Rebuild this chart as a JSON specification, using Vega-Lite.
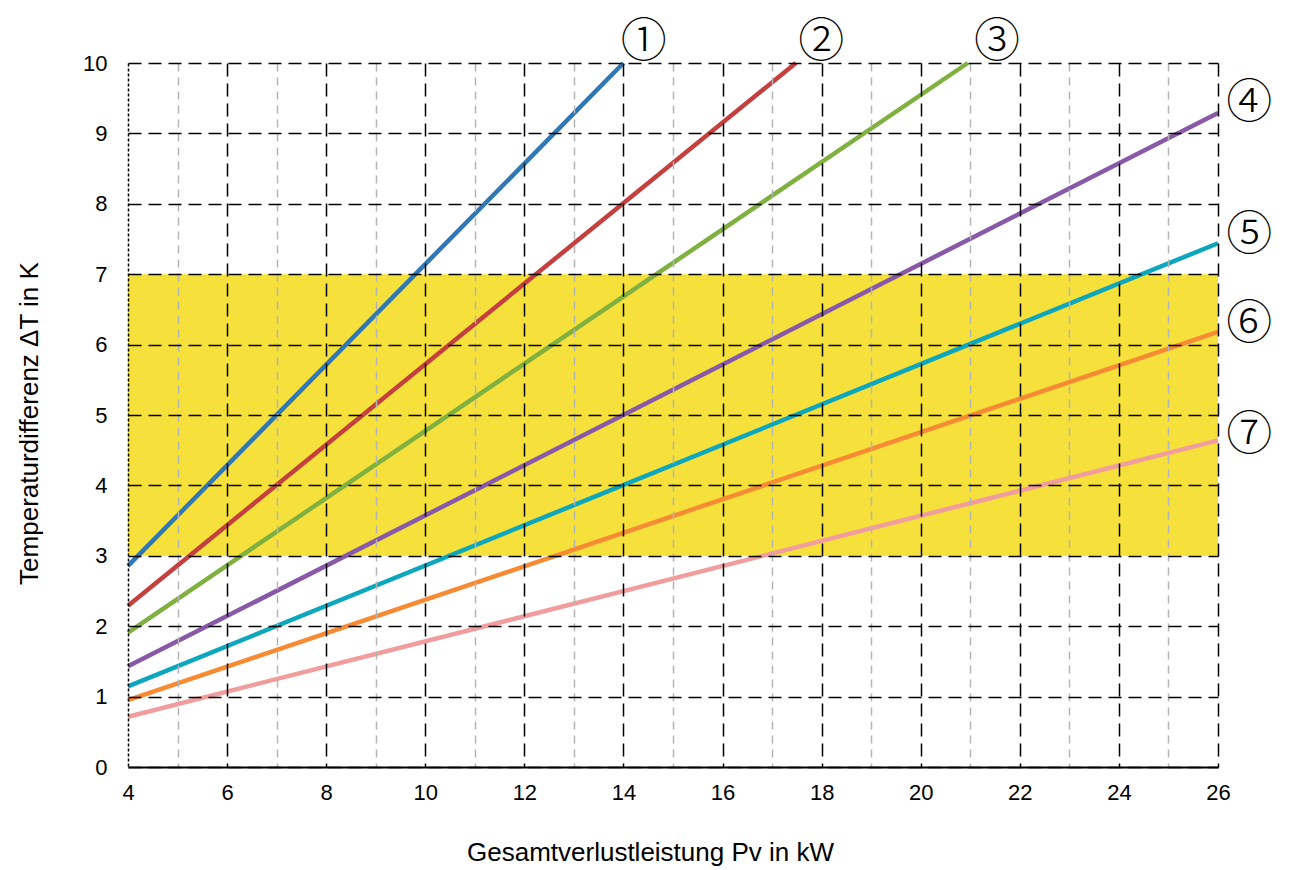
{
  "$schema": "https://vega.github.io/schema/vega-lite/v6.json",
  "width": 1090,
  "height": 704,
  "autosize": {"type": "none"},
  "padding": {"left": 128, "top": 63, "right": 77, "bottom": 103},
  "background": "white",
  "config": {"view": {"stroke": null}, "font": "Liberation Sans", "axis": {"labelFont": "Liberation Sans", "titleFont": "Liberation Sans"}},
  "datasets": {
    "band": [{"x": 4, "x2": 26, "y": 3, "y2": 7}],
    "lines": [
      {"series": "1", "x": 4, "y": 2.857},
      {"series": "1", "x": 14, "y": 10},
      {"series": "2", "x": 4, "y": 2.29},
      {"series": "2", "x": 17.48, "y": 10},
      {"series": "3", "x": 4, "y": 1.91},
      {"series": "3", "x": 20.95, "y": 10},
      {"series": "4", "x": 4, "y": 1.43},
      {"series": "4", "x": 26, "y": 9.29},
      {"series": "5", "x": 4, "y": 1.145},
      {"series": "5", "x": 26, "y": 7.44},
      {"series": "6", "x": 4, "y": 0.95},
      {"series": "6", "x": 26, "y": 6.18},
      {"series": "7", "x": 4, "y": 0.714},
      {"series": "7", "x": 26, "y": 4.64}
    ],
    "labels": [
      {"series": "1", "label": "①", "x": 14.41, "y": 10.3},
      {"series": "2", "label": "②", "x": 17.99, "y": 10.3},
      {"series": "3", "label": "③", "x": 21.54, "y": 10.3},
      {"series": "4", "label": "④", "x": 26.63, "y": 9.43},
      {"series": "5", "label": "⑤", "x": 26.63, "y": 7.56},
      {"series": "6", "label": "⑥", "x": 26.63, "y": 6.29},
      {"series": "7", "label": "⑦", "x": 26.63, "y": 4.72}
    ]
  },
  "layer": [
    {
      "data": {"name": "band"},
      "mark": {"type": "rect", "color": "#f6e03b"},
      "encoding": {
        "x": {
          "field": "x",
          "type": "quantitative",
          "scale": {"domain": [4, 26], "nice": false, "zero": false},
          "axis": {
            "values": [4, 5, 6, 7, 8, 9, 10, 11, 12, 13, 14, 15, 16, 17, 18, 19, 20, 21, 22, 23, 24, 25, 26],
            "format": "d",
            "labelExpr": "datum.value % 2 === 0 ? datum.label : ''",
            "title": "Gesamtverlustleistung Pv in kW",
            "grid": true,
            "gridColor": {"condition": {"test": "datum.value % 2 === 1", "value": "#b4b4b4"}, "value": "#000000"},
            "gridDash": {"condition": [{"test": "datum.value === 4", "value": [3, 2]}, {"test": "datum.value % 2 === 1", "value": [8, 6]}], "value": [13, 7]},
            "gridWidth": 1.5,
            "zindex": 1,
            "domainColor": "#000000",
            "domainWidth": 2,
            "ticks": false,
            "tickSize": 0,
            "labelPadding": 15,
            "labelFontSize": 22,
            "labelColor": "#000000",
            "labelFlush": false,
            "labelOverlap": false,
            "titleFontSize": 26,
            "titleFontWeight": "normal",
            "titleColor": "#000000",
            "titleX": 522,
            "titleY": 93,
            "titleBaseline": "alphabetic",
            "titleAlign": "center"
          }
        },
        "x2": {"field": "x2"},
        "y": {
          "field": "y",
          "type": "quantitative",
          "scale": {"domain": [0, 10], "nice": false, "zero": false},
          "axis": {
            "values": [0, 1, 2, 3, 4, 5, 6, 7, 8, 9, 10],
            "format": "d",
            "title": "Temperaturdifferenz ΔT in K",
            "grid": true,
            "gridColor": "#000000",
            "gridDash": [13, 7],
            "gridWidth": 1.5,
            "zindex": 1,
            "domain": false,
            "ticks": false,
            "tickSize": 0,
            "labelPadding": 21,
            "labelFontSize": 22,
            "labelColor": "#000000",
            "labelFlush": false,
            "labelOverlap": false,
            "titleFontSize": 26,
            "titleFontWeight": "normal",
            "titleColor": "#000000",
            "titleAngle": -90,
            "titleX": -91,
            "titleY": 360,
            "titleBaseline": "alphabetic",
            "titleAlign": "center"
          }
        },
        "y2": {"field": "y2"}
      }
    },
    {
      "data": {"name": "lines"},
      "mark": {"type": "line", "strokeWidth": 4.5, "clip": false},
      "encoding": {
        "x": {"field": "x", "type": "quantitative"},
        "y": {"field": "y", "type": "quantitative"},
        "color": {
          "field": "series",
          "type": "nominal",
          "scale": {"domain": ["1", "2", "3", "4", "5", "6", "7"], "range": ["#2f78b5", "#c4403f", "#7fb040", "#8759a8", "#0ca6bd", "#f68b33", "#f29d9d"]},
          "legend": null
        }
      }
    },
    {
      "data": {"name": "labels"},
      "mark": {"type": "text", "font": "Noto Sans CJK JP", "fontSize": 46, "fontWeight": 300, "align": "center", "baseline": "middle", "color": "#000000", "clip": false},
      "encoding": {
        "x": {"field": "x", "type": "quantitative"},
        "y": {"field": "y", "type": "quantitative"},
        "text": {"field": "label"}
      }
    }
  ]
}
